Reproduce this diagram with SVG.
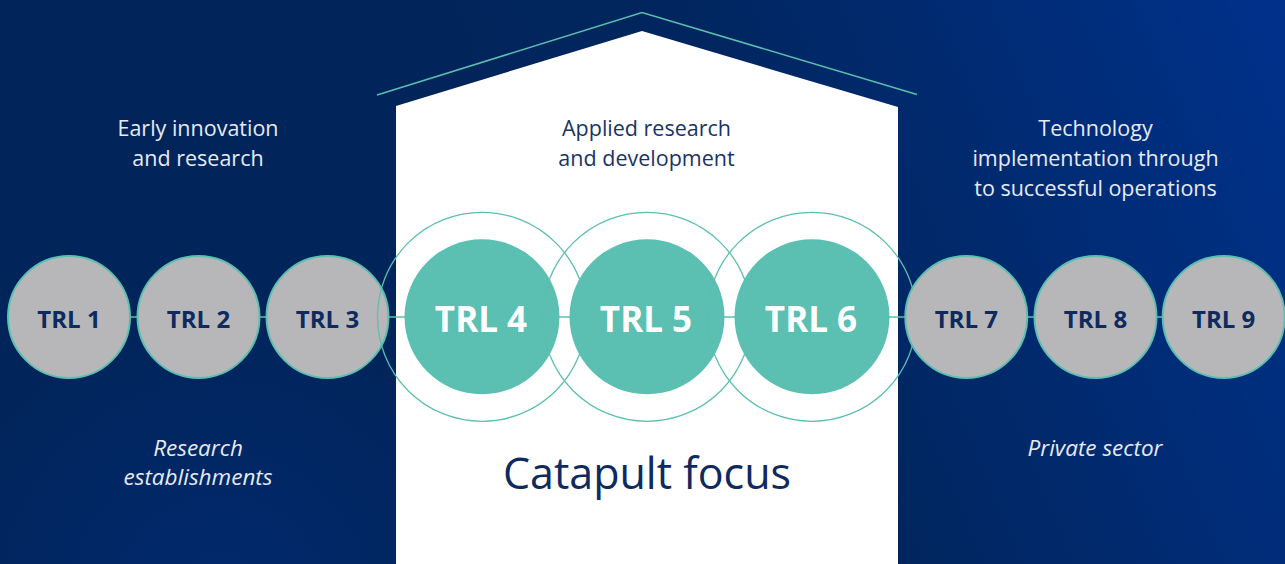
<svg xmlns="http://www.w3.org/2000/svg" width="1285" height="564" viewBox="0 0 1285 564">
  <defs>
    <linearGradient id="bg" gradientUnits="userSpaceOnUse" x1="500" y1="330" x2="1285" y2="0">
      <stop offset="0" stop-color="#01245a"/>
      <stop offset="0.35" stop-color="#01265f"/>
      <stop offset="1" stop-color="#00318b"/>
    </linearGradient>
    <radialGradient id="glow" gradientUnits="userSpaceOnUse" cx="220" cy="600" r="300">
      <stop offset="0" stop-color="#012b72" stop-opacity="0.8"/>
      <stop offset="1" stop-color="#012b72" stop-opacity="0"/>
    </radialGradient>
    <style>
      .small circle { fill: #b7b7b9; stroke: #5bbfb0; stroke-width: 2; }
      .small text { font-family: "Open Sans", "Noto Sans", sans-serif; font-weight: 700; font-size: 24px; fill: #0e2a5e; text-anchor: middle; }
      .big .core { fill: #5bbfb2; }
      .big .ring { fill: none; stroke: #5bbfb0; stroke-width: 1.3; }
      .big text { font-family: "Open Sans", "Noto Sans", sans-serif; font-weight: 700; font-size: 35px; fill: #ffffff; text-anchor: middle; }
      .lbl { font-family: "Open Sans", "Noto Sans", sans-serif; font-size: 21.5px; text-anchor: middle; }
      .light { fill: #e6ebf3; }
      .dark { fill: #1a3366; }
      .it { font-style: italic; font-size: 22.5px; }
      .conn line { stroke: #5bbfb0; stroke-width: 1.5; }
    </style>
  </defs>

  <rect x="0" y="0" width="1285" height="564" fill="url(#bg)"/>
  <rect x="0" y="250" width="500" height="314" fill="url(#glow)"/>

  <g id="house">
    <polygon points="396,106 642,31 898,107 898,564 396,564" fill="#ffffff"/>
    <polyline points="377,95 642,12.5 917,94.5" fill="none" stroke="#5bbfb0" stroke-width="1.5"/>
  </g>

  <g id="connectors" class="conn">
    <line x1="130" y1="317" x2="138" y2="317"/>
    <line x1="259" y1="317" x2="267" y2="317"/>
    <line x1="388" y1="317" x2="405" y2="317"/>
    <line x1="559" y1="317" x2="570" y2="317"/>
    <line x1="724" y1="317" x2="735" y2="317"/>
    <line x1="889" y1="317" x2="906" y2="317"/>
    <line x1="1027" y1="317" x2="1035" y2="317"/>
    <line x1="1156" y1="317" x2="1164" y2="317"/>
  </g>

  <g id="trl1" class="small"><circle cx="69" cy="317" r="61"/><text x="69" y="328">TRL 1</text></g>
  <g id="trl2" class="small"><circle cx="198.5" cy="317" r="61"/><text x="198.5" y="328">TRL 2</text></g>
  <g id="trl3" class="small"><circle cx="327.5" cy="317" r="61"/><text x="327.5" y="328">TRL 3</text></g>

  <g id="trl4" class="big"><circle class="ring" cx="482" cy="316.8" r="104.5"/><circle class="core" cx="482" cy="316.8" r="77.5"/><text x="481" y="332">TRL 4</text></g>
  <g id="trl5" class="big"><circle class="ring" cx="647" cy="316.8" r="104.5"/><circle class="core" cx="647" cy="316.8" r="77.5"/><text x="646" y="332">TRL 5</text></g>
  <g id="trl6" class="big"><circle class="ring" cx="812" cy="316.8" r="104.5"/><circle class="core" cx="812" cy="316.8" r="77.5"/><text x="811" y="332">TRL 6</text></g>

  <g id="trl7" class="small"><circle cx="966.3" cy="317" r="61"/><text x="966.3" y="328">TRL 7</text></g>
  <g id="trl8" class="small"><circle cx="1095.5" cy="317" r="61"/><text x="1095.5" y="328">TRL 8</text></g>
  <g id="trl9" class="small"><circle cx="1223.7" cy="317" r="61"/><text x="1223.7" y="328">TRL 9</text></g>

  <g id="labels">
    <text class="lbl light" x="198" y="136">Early innovation</text>
    <text class="lbl light" x="198" y="166">and research</text>
    <text class="lbl dark" x="646.5" y="136">Applied research</text>
    <text class="lbl dark" x="646.5" y="166">and development</text>
    <text class="lbl light" x="1095.5" y="136">Technology</text>
    <text class="lbl light" x="1095.5" y="166">implementation through</text>
    <text class="lbl light" x="1095.5" y="196">to successful operations</text>
    <text class="lbl light it" x="198" y="456">Research</text>
    <text class="lbl light it" x="198" y="485">establishments</text>
    <text class="lbl light it" x="1095" y="456">Private sector</text>
    <text x="647" y="489" font-family="'Open Sans', 'Noto Sans', sans-serif" font-size="43" fill="#0e2a5e" text-anchor="middle">Catapult focus</text>
  </g>
</svg>
